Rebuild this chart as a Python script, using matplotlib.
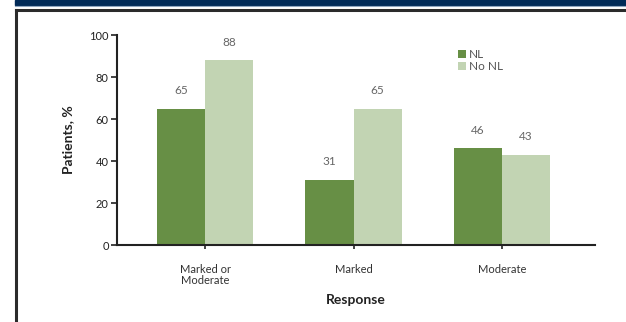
import numpy as np
import matplotlib.pyplot as plt
from matplotlib.patches import Rectangle
from matplotlib.lines import Line2D

categories = ['Marked or\nModerate', 'Marked', 'Moderate']
nl_values = [65, 31, 46]
no_nl_values = [88, 65, 43]
series_names = ['NL', 'No NL']

dark_green = '#678f45'
light_green = '#c2d4b3'
navy = '#002a57'
text_gray = '#666666'

plt.rcParams['font.family'] = ['Lato', 'DejaVu Sans']

fig = plt.figure(figsize=(6.26, 3.22), dpi=100)
W, H = 626, 322

# header band and frame
fig.patches.append(Rectangle((15 / W, 1 - 5 / H), 1, 5 / H, transform=fig.transFigure,
                             color=navy, zorder=0))
fig.lines.append(Line2D([15 / W, 1], [1 - 5.5 / H, 1 - 5.5 / H], transform=fig.transFigure,
                        color='#8fa6c0', lw=0.8))
fig.lines.append(Line2D([15.5 / W, 1], [1 - 9.5 / H, 1 - 9.5 / H], transform=fig.transFigure,
                        color='#2b2b2b', lw=2.2))
fig.lines.append(Line2D([15.5 / W, 15.5 / W], [0, 1 - 9.5 / H], transform=fig.transFigure,
                        color='#2b2b2b', lw=2.2))

ax = fig.add_axes([117 / W, 1 - 245 / H, (595 - 117) / W, (245 - 35) / H])

x = np.arange(len(categories))
w = 0.325
b1 = ax.bar(x - w / 2, nl_values, w, color=dark_green, label=series_names[0])
b2 = ax.bar(x + w / 2, no_nl_values, w, color=light_green, label=series_names[1])

for bars, vals in [(b1, nl_values), (b2, no_nl_values)]:
    for bar, v in zip(bars, vals):
        ax.text(bar.get_x() + bar.get_width() / 2, v + 6, str(v), ha='center', va='bottom',
                fontsize=8.5, color=text_gray)

ax.set_xlim(-0.593, 2.626)
ax.set_ylim(0, 100)
ax.set_yticks([0, 20, 40, 60, 80, 100])
ax.set_xticks(x)
ax.set_xticklabels(categories, fontsize=8, color='#333333', linespacing=0.9)
ax.tick_params(axis='y', labelsize=8, colors='#222222', length=4, width=1.2, pad=2)
ax.tick_params(axis='x', length=3, width=1.2, pad=11, colors='#222222')
for t in ax.get_xticklabels():
    t.set_color('#333333')

for s in ['top', 'right']:
    ax.spines[s].set_visible(False)
for s in ['left', 'bottom']:
    ax.spines[s].set_linewidth(1.5)
    ax.spines[s].set_color('#222222')

ax.set_ylabel('Patients, %', fontsize=10, fontweight='bold', color='#222222', labelpad=11)
ax.set_xlabel('Response', fontsize=10, fontweight='bold', color='#222222', labelpad=6)

ax.legend(loc='upper left', bbox_to_anchor=(0.7, 0.96), frameon=False, fontsize=8.5,
          handlelength=0.7, handleheight=0.7, handletextpad=0.3, labelspacing=0.05,
          labelcolor='#555555', borderpad=0)

fig.savefig('out.png', dpi=100)
